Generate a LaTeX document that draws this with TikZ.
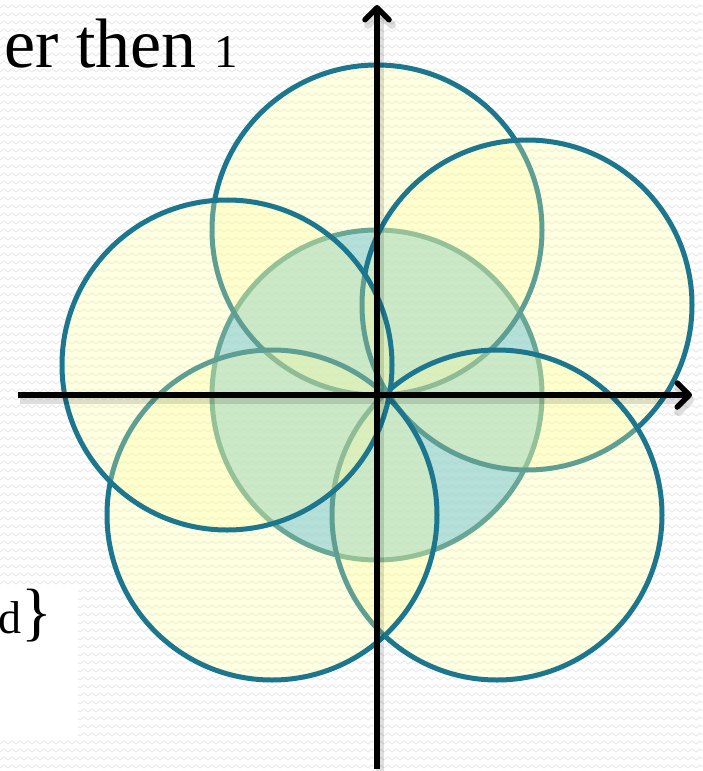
\documentclass[tikz,border=0pt]{standalone}
\usepackage{fontspec}
\setmainfont{Liberation Serif}
\usetikzlibrary{arrows.meta,patterns}
\definecolor{tealline}{RGB}{27,118,142}
\definecolor{yel}{RGB}{255,255,160}
\definecolor{cblue}{RGB}{80,182,235}
\definecolor{cstroke}{RGB}{40,130,145}
\definecolor{bgwave}{RGB}{234,234,234}
\pgfdeclarepatternformonly{wavy}{\pgfpoint{-1pt}{-1pt}}{\pgfpoint{9pt}{9pt}}{\pgfpoint{8pt}{8pt}}{%
  \pgfsetlinewidth{1pt}%
  \pgfpathmoveto{\pgfpoint{0pt}{3pt}}%
  \pgfpathcurveto{\pgfpoint{2pt}{3pt}}{\pgfpoint{2pt}{6pt}}{\pgfpoint{4pt}{6pt}}%
  \pgfpathcurveto{\pgfpoint{6pt}{6pt}}{\pgfpoint{6pt}{3pt}}{\pgfpoint{8pt}{3pt}}%
  \pgfusepath{stroke}}
\tikzset{
  ycirc/.style={draw=tealline, line width=5pt, fill=yel, fill opacity=0.3, draw opacity=1},
  ccirc/.style={draw=cstroke, line width=5pt, fill=cblue, fill opacity=0.6, draw opacity=1},
  axisline/.style={line width=5.5pt, black, -{Straight Barb[length=12pt,width=24pt,round]}},
  shadowline/.style={line width=8pt, black, opacity=0.13, -{Straight Barb[length=12pt,width=24pt,round]}},
}
\begin{document}
\begin{tikzpicture}[x=1pt,y=-1pt]
\useasboundingbox (0,0) rectangle (702,771);
\fill[white] (0,0) rectangle (702,771);
\fill[pattern=wavy, pattern color=bgwave] (0,0) rectangle (702,771);
\fill[white] (0,588) rectangle (78,737);
% texts
\node[anchor=base east, inner sep=0pt, font=\fontsize{70}{78}\selectfont] (title) at (238,67) {er then {\fontsize{47}{50}\selectfont 1}};
\node[anchor=base east, inner sep=0pt] (tag) at (52,633) {\fontsize{46}{50}\selectfont ed\fontsize{64}{68}\selectfont\}};
% circle centres
\coordinate (O) at (377,395);
\coordinate (cT) at (377,230);
\coordinate (cUR) at (527,305);
\coordinate (cUL) at (227,365);
\coordinate (cLL) at (272,515);
\coordinate (cLR) at (497,515);
\draw[ccirc] (O) circle[radius=165pt];
\draw[ycirc] (cT) circle[radius=165pt];
\draw[ycirc] (cUR) circle[radius=165pt];
\draw[ycirc] (cLR) circle[radius=165pt];
\draw[ycirc] (cLL) circle[radius=165pt];
\draw[ycirc] (cUL) circle[radius=165pt];
% axes
\coordinate (xL) at (18,395);
\coordinate (xR) at (692,395);
\coordinate (yB) at (377,769);
\coordinate (yT) at (377,5);
\coordinate (sxL) at (20,400);
\coordinate (sxR) at (694,400);
\coordinate (syB) at (380,772);
\coordinate (syT) at (380,9);
\draw[shadowline] (sxL) -- (sxR);
\draw[shadowline] (syB) -- (syT);
\draw[axisline] (xL) -- (xR);
\draw[axisline] (yB) -- (yT);
\end{tikzpicture}
\end{document}
